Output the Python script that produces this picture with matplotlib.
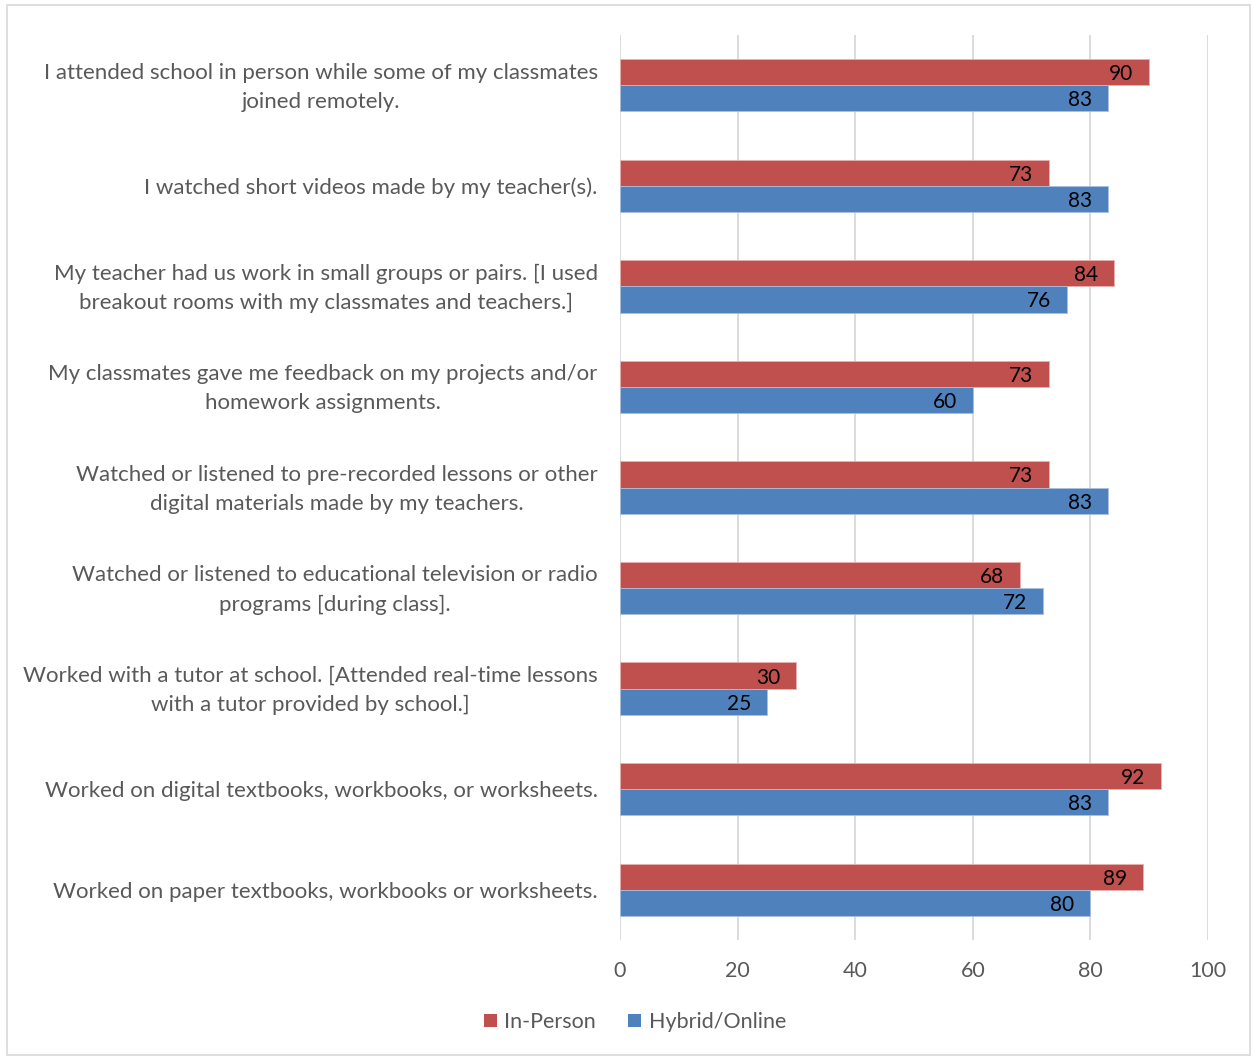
import matplotlib
matplotlib.use("Agg")
import matplotlib.pyplot as plt
from matplotlib.patches import Rectangle, Patch
from matplotlib.transforms import ScaledTranslation
import numpy as np

plt.rcParams['font.family'] = ['Lato', 'DejaVu Sans']

categories = [
    "I attended school in person while some of my classmates\njoined remotely.",
    "I watched short videos made by my teacher(s).",
    "My teacher had us work in small groups or pairs. [I used\nbreakout rooms with my classmates and teachers.]",
    "My classmates gave me feedback on my projects and/or\nhomework assignments.",
    "Watched or listened to pre-recorded lessons or other\ndigital materials made by my teachers.",
    "Watched or listened to educational television or radio\nprograms [during class].",
    "Worked with a tutor at school. [Attended real-time lessons\nwith a tutor provided by school.]",
    "Worked on digital textbooks, workbooks, or worksheets.",
    "Worked on paper textbooks, workbooks or worksheets.",
]
in_person = [90, 73, 84, 73, 73, 68, 30, 92, 89]
hybrid_online = [83, 83, 76, 60, 83, 72, 25, 83, 80]
x_ticks = [0, 20, 40, 60, 80, 100]

RED = "#C0504D"
BLUE = "#4F81BD"
GRAY = "#595959"

W, H = 1253, 1057
fig = plt.figure(figsize=(W / 100, H / 100), dpi=100)
ax = fig.add_axes([620 / W, 1 - 940 / H, 588 / W, 905 / H])

y = np.arange(len(categories))
h = 0.26
b1 = ax.barh(y - h / 2, in_person, height=h, color=RED, edgecolor="#E8B0AE", linewidth=0.6, zorder=3)
b2 = ax.barh(y + h / 2, hybrid_online, height=h, color=BLUE, edgecolor="#A9C0DE", linewidth=0.6, zorder=3)

for bars, vals in ((b1, in_person), (b2, hybrid_online)):
    for rect, v in zip(bars, vals):
        ax.text(v - 2.7, rect.get_y() + rect.get_height() / 2 + 0.02, f"{v}",
                ha="right", va="center", fontsize=15, color="black", zorder=4)

ax.set_xlim(0, 100)
ax.set_ylim(len(categories) - 0.5, -0.5)
ax.set_xticks(x_ticks)
ax.set_xticklabels([str(t) for t in x_ticks], fontsize=15.5, color=GRAY)
ax.set_yticks(y)
ax.set_yticklabels(categories, fontsize=16, color=GRAY, ha="right",
                   multialignment="center", linespacing=1.55)
ax.tick_params(axis="y", length=0, pad=16)
ax.tick_params(axis="x", length=0, pad=15)
ax.grid(axis="x", color="#D9D9D9", linewidth=1.3, zorder=0)
for s in ax.spines.values():
    s.set_visible(False)

# nudge two-line category labels up so both lines sit evenly around the bar pair
for lbl in ax.get_yticklabels():
    if "\n" in lbl.get_text():
        lbl.set_transform(lbl.get_transform() + ScaledTranslation(0, 4.5 / 100, fig.dpi_scale_trans))

leg = fig.legend(handles=[Patch(facecolor=RED, label="In-Person"),
                          Patch(facecolor=BLUE, label="Hybrid/Online")],
                 loc="center", bbox_to_anchor=(635 / W, 1 - 1022 / H), ncol=2, frameon=False,
                 fontsize=15.5, handlelength=0.6, handleheight=0.6, handletextpad=0.35,
                 columnspacing=1.5, labelcolor=GRAY)

fig.patches.append(Rectangle((7 / W, 1 - 1055 / H), 1243 / W, 1050 / H, transform=fig.transFigure,
                             fill=False, edgecolor="#D9D9D9", linewidth=1.2))

fig.savefig("out.png", dpi=100, facecolor="white")
